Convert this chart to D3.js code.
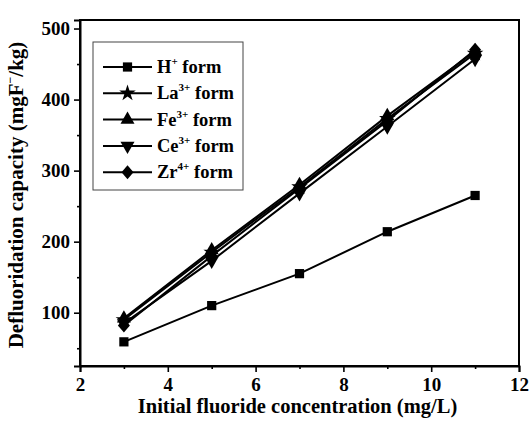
<!DOCTYPE html>
<html><head><meta charset="utf-8">
<script src="https://cdn.jsdelivr.net/npm/d3@7"></script>
<style>body{margin:0;background:#fff}svg{display:block;font-family:"Liberation Serif","Times New Roman",serif;font-weight:bold}svg text{font-weight:bold !important}</style>
</head><body><svg id="c" width="529" height="422"></svg>
<script>
const xVals = [3, 5, 7, 9, 11];
const seriesNames = ["H", "La", "Fe", "Ce", "Zr"];
const seriesSup = ["+", "3+", "3+", "3+", "4+"];
const hForm = [59, 110, 155, 214, 265];
const laForm = [90, 185, 277, 373, 465];
const feForm = [92, 188, 280, 377, 468];
const ceForm = [85, 173, 268, 362, 457];
const zrForm = [82, 180, 275, 370, 470];
const seriesValues = [hForm, laForm, feForm, ceForm, zrForm];
const symbols = ["square", "star", "triangle", "triangleDown", "diamond"];
const xTicks = [2, 4, 6, 8, 10, 12];
const yTicks = [100, 200, 300, 400, 500];

const svg = d3.select("#c");
const L = 80, R = 519, T = 20, B = 366;
const x = d3.scaleLinear().domain([2, 12]).range([L, R]);
const y = d3.scaleLinear().domain([25, 512]).range([B, T]);

svg.append("rect").attr("x", L).attr("y", T).attr("width", R - L).attr("height", B - T)
  .attr("fill", "none").attr("stroke", "#000").attr("stroke-width", 2);

const xAxis = d3.axisBottom(x).tickValues(xTicks).tickSize(6).tickPadding(6).tickFormat(d3.format("d"));
svg.append("g").attr("transform", `translate(0,${B})`).call(xAxis);
const xMinor = d3.axisBottom(x).tickValues([3,5,7,9,11]).tickSize(3).tickFormat("");
svg.append("g").attr("transform", `translate(0,${B})`).call(xMinor).select(".domain").remove();
const yAxis = d3.axisLeft(y).tickValues(yTicks).tickSize(6).tickPadding(4);
svg.append("g").attr("transform", `translate(${L},0)`).call(yAxis);
const yMinor = d3.axisLeft(y).tickValues([50,150,250,350,450]).tickSize(3).tickFormat("");
svg.append("g").attr("transform", `translate(${L},0)`).call(yMinor).select(".domain").remove();
svg.selectAll(".domain").attr("stroke-width", 2);
svg.selectAll(".tick line").attr("stroke-width", 1.6);
svg.selectAll(".tick text").attr("font-size", null).attr("font-family", null)
  .style("font-family", '"Liberation Serif", serif').style("font-size", "19px").attr("fill", "#000");

const line = d3.line().x((d, i) => x(xVals[i])).y(d => y(d));
const diamondPath = "M0,-7L6,0L0,7L-6,0Z";
function drawSym(g, type, cx, cy) {
  let p;
  if (type === "square") p = g.append("path").attr("d", d3.symbol().type(d3.symbolSquare).size(85)());
  else if (type === "star") p = g.append("path").attr("d", d3.symbol().type(d3.symbolStar).size(85)());
  else if (type === "triangle") p = g.append("path").attr("d", d3.symbol().type(d3.symbolTriangle).size(85)());
  else if (type === "triangleDown") p = g.append("path").attr("d", d3.symbol().type(d3.symbolTriangle).size(85)());
  else p = g.append("path").attr("d", diamondPath);
  p.attr("transform", `translate(${cx},${cy})` + (type === "triangleDown" ? " rotate(180)" : "")).attr("fill", "#000");
}
seriesValues.forEach((vals, si) => {
  svg.append("path").datum(vals).attr("d", line).attr("fill", "none").attr("stroke", "#000").attr("stroke-width", 2);
  const g = svg.append("g");
  vals.forEach((v, i) => drawSym(g, symbols[si], x(xVals[i]), y(v)));
});

svg.append("rect").attr("x", 93).attr("y", 42).attr("width", 150).attr("height", 148)
  .attr("fill", "#fff").attr("stroke", "#444").attr("stroke-width", 1);
seriesNames.forEach((n, i) => {
  const yy = 67 + i * 26.3;
  const g = svg.append("g");
  g.append("line").attr("x1", 103).attr("x2", 152).attr("y1", yy).attr("y2", yy).attr("stroke", "#000").attr("stroke-width", 2);
  drawSym(g, symbols[i], 127.5, yy);
  const t = g.append("text").attr("x", 157).attr("y", yy + 6).style("font-size", "18.5px");
  t.append("tspan").text(n);
  t.append("tspan").style("font-size", "11px").attr("dy", -8).text(seriesSup[i]);
  t.append("tspan").attr("dy", 8).text(" form");
});

svg.append("text").attr("x", (L + R) / 2 - 2).attr("y", 413).attr("text-anchor", "middle").style("font-size", "20.5px")
  .text("Initial fluoride concentration (mg/L)");
const yt = svg.append("text").attr("transform", `translate(23,${(T + B) / 2 + 2}) rotate(-90)`).attr("text-anchor", "middle").style("font-size", "21px");
yt.append("tspan").text("Defluoridation capacity (mgF");
yt.append("tspan").style("font-size", "12px").attr("dy", -9).text("−");
yt.append("tspan").attr("dy", 9).text("/kg)");
</script></body></html>
